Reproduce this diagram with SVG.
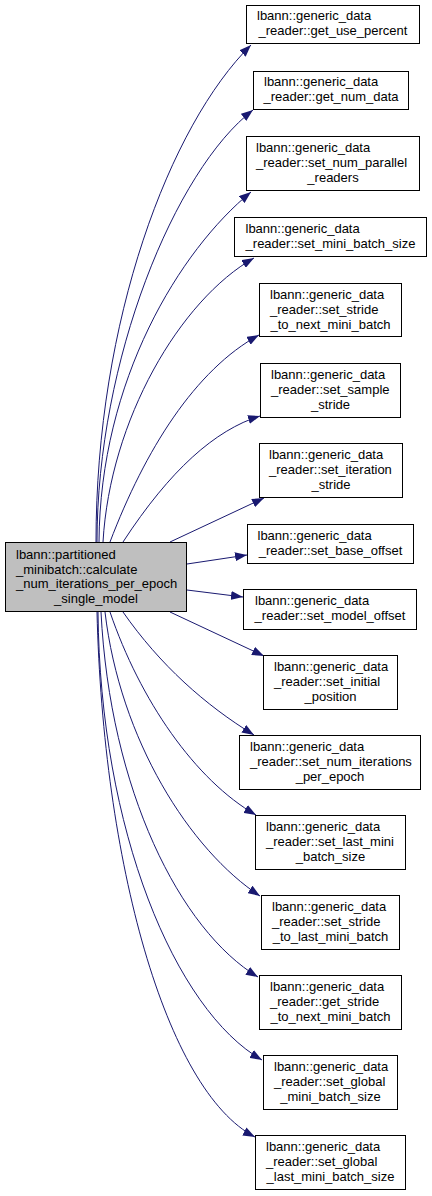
<svg xmlns="http://www.w3.org/2000/svg" width="432" height="1196" viewBox="0 0 432 1196">
<style>
.n rect{fill:#ffffff;stroke:#000000;stroke-width:1}
#root rect{fill:#bfbfbf}
text{font-family:"Liberation Sans",Arial,Helvetica,sans-serif;font-size:13px;fill:#000000}
.c{text-anchor:middle}
.edges path{fill:none;stroke:#191970;stroke-width:1;marker-end:url(#ah)}
</style>
<defs>
<marker id="ah" markerUnits="userSpaceOnUse" markerWidth="12" markerHeight="9" refX="12" refY="4.5" orient="auto" viewBox="0 0 12 9">
<path d="M0,0 L12,4.5 L0,9 z" fill="#191970"/>
</marker>
</defs>
<rect width="432" height="1196" fill="#ffffff"/>
<g class="edges">
<path d="M96,542 C96,320 170,125 251,45"/>
<path d="M97,542 C97,360 175,170 253,110"/>
<path d="M99,542 C100,380 180,250 251,192"/>
<path d="M103,542 C110,420 180,300 254,258"/>
<path d="M110,542 C145,450 195,370 259,335"/>
<path d="M123,542 C170,470 215,430 260,416"/>
<path d="M170,542 L264,498"/>
<path d="M187,564 L247,555"/>
<path d="M187,590 L243,597"/>
<path d="M170,612 L264,656"/>
<path d="M123,612 C160,665 205,705 254,735"/>
<path d="M110,612 C140,700 195,780 256,815"/>
<path d="M105,612 C120,740 190,850 260,896"/>
<path d="M101,612 C110,790 180,930 258,977"/>
<path d="M98,612 C100,830 175,1010 262,1060"/>
<path d="M97,612 C103,860 165,1090 255,1137"/>
</g>
<g id="root" class="n">
<rect x="5.5" y="542.5" width="181" height="69"/>
<text x="16" y="559.3">lbann::partitioned</text>
<text x="16" y="573.8">_minibatch::calculate</text>
<text x="16" y="588.3">_num_iterations_per_epoch</text>
<text class="c" x="96" y="602.8">_single_model</text>
</g>
<g id="n1" class="n">
<rect x="246.5" y="5.5" width="173" height="38"/>
<text x="257" y="20">lbann::generic_data</text>
<text class="c" x="333" y="35">_reader::get_use_percent</text>
</g>
<g id="n2" class="n">
<rect x="253.5" y="71.5" width="155" height="38"/>
<text x="264" y="86">lbann::generic_data</text>
<text class="c" x="331" y="101">_reader::get_num_data</text>
</g>
<g id="n3" class="n">
<rect x="246.5" y="136.5" width="173" height="54"/>
<text x="256" y="152">lbann::generic_data</text>
<text x="256" y="167">_reader::set_num_parallel</text>
<text class="c" x="333" y="182">_readers</text>
</g>
<g id="n4" class="n">
<rect x="234.5" y="217.5" width="192" height="39"/>
<text x="245.5" y="232.5">lbann::generic_data</text>
<text class="c" x="330.5" y="247.5">_reader::set_mini_batch_size</text>
</g>
<g id="n5" class="n">
<rect x="259.5" y="283.5" width="142" height="53"/>
<text x="270" y="298.5">lbann::generic_data</text>
<text x="270" y="313.5">_reader::set_stride</text>
<text class="c" x="330.5" y="328.5">_to_next_mini_batch</text>
</g>
<g id="n6" class="n">
<rect x="260.5" y="363.5" width="140" height="54"/>
<text x="271" y="379">lbann::generic_data</text>
<text x="271" y="394">_reader::set_sample</text>
<text class="c" x="330.5" y="409">_stride</text>
</g>
<g id="n7" class="n">
<rect x="259.5" y="443.5" width="143" height="54"/>
<text x="269" y="459">lbann::generic_data</text>
<text x="269" y="474">_reader::set_iteration</text>
<text class="c" x="331" y="489">_stride</text>
</g>
<g id="n8" class="n">
<rect x="247.5" y="524.5" width="166" height="39"/>
<text x="257.5" y="539.5">lbann::generic_data</text>
<text class="c" x="330.5" y="554.5">_reader::set_base_offset</text>
</g>
<g id="n9" class="n">
<rect x="243.5" y="589.5" width="173" height="40"/>
<text x="255" y="605">lbann::generic_data</text>
<text class="c" x="330" y="620">_reader::set_model_offset</text>
</g>
<g id="n10" class="n">
<rect x="263.5" y="655.5" width="134" height="54"/>
<text x="274" y="671">lbann::generic_data</text>
<text x="274" y="686">_reader::set_initial</text>
<text class="c" x="330.5" y="701">_position</text>
</g>
<g id="n11" class="n">
<rect x="239.5" y="735.5" width="181" height="54"/>
<text x="250" y="751">lbann::generic_data</text>
<text x="250" y="766">_reader::set_num_iterations</text>
<text class="c" x="330" y="781">_per_epoch</text>
</g>
<g id="n12" class="n">
<rect x="255.5" y="815.5" width="150" height="54"/>
<text x="266" y="831">lbann::generic_data</text>
<text x="266" y="846">_reader::set_last_mini</text>
<text class="c" x="330.5" y="861">_batch_size</text>
</g>
<g id="n13" class="n">
<rect x="261.5" y="895.5" width="138" height="54"/>
<text x="272" y="911">lbann::generic_data</text>
<text x="272" y="926">_reader::set_stride</text>
<text class="c" x="330.5" y="941">_to_last_mini_batch</text>
</g>
<g id="n14" class="n">
<rect x="259.5" y="975.5" width="142" height="54"/>
<text x="270" y="991">lbann::generic_data</text>
<text x="270" y="1006">_reader::get_stride</text>
<text class="c" x="330.5" y="1021">_to_next_mini_batch</text>
</g>
<g id="n15" class="n">
<rect x="263.5" y="1055.5" width="134" height="54"/>
<text x="274" y="1071">lbann::generic_data</text>
<text x="274" y="1086">_reader::set_global</text>
<text class="c" x="330.5" y="1101">_mini_batch_size</text>
</g>
<g id="n16" class="n">
<rect x="255.5" y="1135.5" width="150" height="54"/>
<text x="266" y="1151">lbann::generic_data</text>
<text x="266" y="1166">_reader::set_global</text>
<text class="c" x="330.5" y="1181">_last_mini_batch_size</text>
</g>
</svg>
